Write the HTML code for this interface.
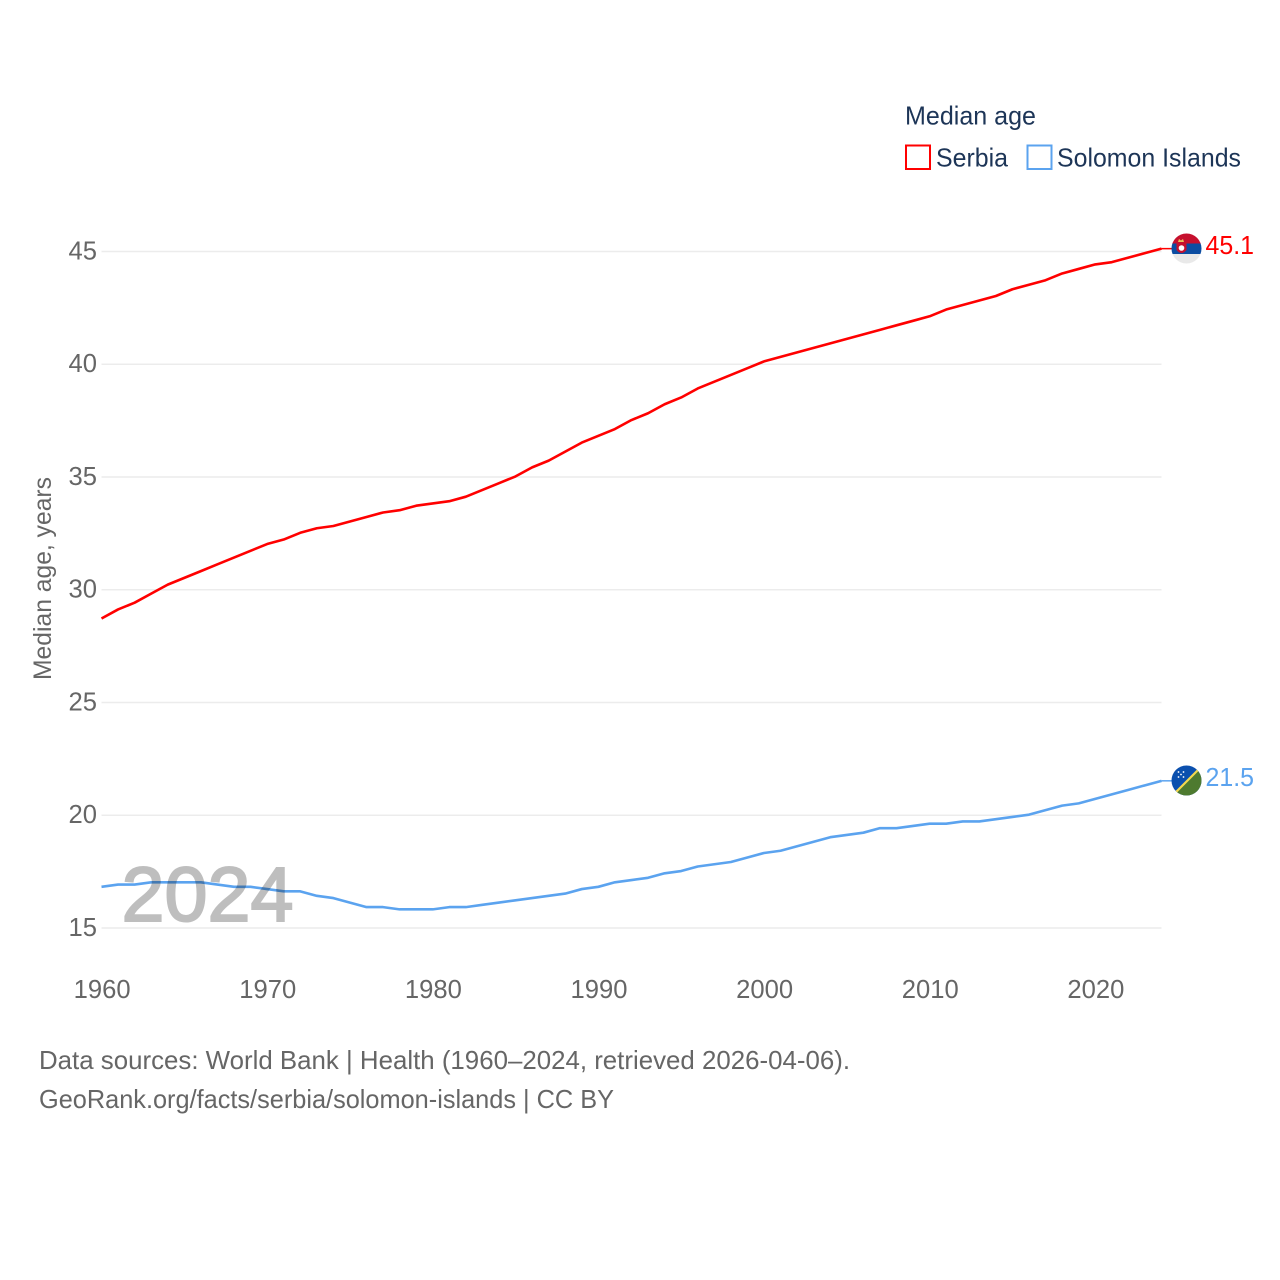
<!DOCTYPE html>
<html lang="en">
<head>
<meta charset="utf-8">
<title>Median age: Serbia and Solomon Islands</title>
<style>
html,body{margin:0;padding:0;background:#fff;}
svg{display:block;font-family:"Liberation Sans",sans-serif;}
</style>
</head>
<body>
<svg id="chart" xmlns="http://www.w3.org/2000/svg" width="1280" height="1280" viewBox="0 0 1280 1280">
  <rect width="1280" height="1280" fill="#fff"/>
  <defs>
    <clipPath id="clip-serbia"><circle cx="1186.5" cy="248.5" r="15"/></clipPath>
    <clipPath id="clip-solomon"><circle cx="1186.5" cy="780.5" r="15"/></clipPath>
  </defs>
  <g id="grid"></g>
  <g id="yticks"></g>
  <g id="xticks"></g>
  <g id="series" transform="translate(0 -0.6)"></g>

  <text x="121.5" y="921" font-size="77" fill="#000" stroke="#000" stroke-width="2" opacity="0.25" textLength="172" lengthAdjust="spacingAndGlyphs">2024</text>

  <text transform="translate(51 680) rotate(-90)" font-size="25" fill="#666" textLength="203" lengthAdjust="spacingAndGlyphs">Median age, years</text>

  <g>
    <text x="905" y="124.5" font-size="26" fill="#1d3557" textLength="131" lengthAdjust="spacingAndGlyphs">Median age</text>
    <rect x="906" y="145.5" width="24" height="23.5" fill="none" stroke="#ff0000" stroke-width="2"/>
    <text x="936" y="166.5" font-size="26" fill="#1d3557" textLength="72" lengthAdjust="spacingAndGlyphs">Serbia</text>
    <rect x="1027.5" y="145.5" width="24" height="23.5" fill="none" stroke="#5ba3ef" stroke-width="2"/>
    <text x="1057" y="166.5" font-size="26" fill="#1d3557" textLength="184" lengthAdjust="spacingAndGlyphs">Solomon Islands</text>
  </g>

  <g clip-path="url(#clip-serbia)">
    <rect x="1170" y="233" width="33" height="11" fill="#c6102e"/>
    <rect x="1170" y="243.5" width="33" height="10.5" fill="#0c4da2"/>
    <rect x="1170" y="254" width="33" height="11" fill="#e9e9e9"/>
    <path d="M1178 242l1-3 2 1.500 2-1.500 1 3z" fill="#e8c15a"/>
    <path d="M1176.500 242h10v8q-5 6-10 0z" fill="#c6102e"/>
    <circle cx="1181.500" cy="248" r="2.800" fill="#fff"/>
  </g>
  <g clip-path="url(#clip-solomon)">
    <rect x="1170" y="765" width="33" height="32" fill="#0b50ae"/>
    <path d="M1203 765V797H1171Z" fill="#4e7a2f"/>
    <path d="M1201 767L1173 795" stroke="#f4d94e" stroke-width="2.200" fill="none"/>
    <g fill="#fff">
      <circle cx="1178.500" cy="772" r="0.900"/><circle cx="1183.500" cy="772" r="0.900"/>
      <circle cx="1181" cy="774.500" r="0.900"/>
      <circle cx="1178.500" cy="777" r="0.900"/><circle cx="1183.500" cy="777" r="0.900"/>
    </g>
  </g>

  <text x="1205.5" y="254" font-size="25.5" fill="#ff0000" textLength="48.5" lengthAdjust="spacingAndGlyphs">45.1</text>
  <text x="1205.5" y="786" font-size="25.5" fill="#5ba3ef" textLength="48.5" lengthAdjust="spacingAndGlyphs">21.5</text>

  <text x="39" y="1069" font-size="26" fill="#666" textLength="811" lengthAdjust="spacingAndGlyphs">Data sources: World Bank | Health (1960–2024, retrieved 2026-04-06).</text>
  <text x="39" y="1108" font-size="26" fill="#666" textLength="575" lengthAdjust="spacingAndGlyphs">GeoRank.org/facts/serbia/solomon-islands | CC BY</text>
</svg>
<script>
const startYear = 1960;
const serbiaValues = [28.7,29.1,29.4,29.8,30.2,30.5,30.8,31.1,31.4,31.7,32.0,32.2,32.5,32.7,32.8,33.0,33.2,33.4,33.5,33.7,33.8,33.9,34.1,34.4,34.7,35.0,35.4,35.7,36.1,36.5,36.8,37.1,37.5,37.8,38.2,38.5,38.9,39.2,39.5,39.8,40.1,40.3,40.5,40.7,40.9,41.1,41.3,41.5,41.7,41.9,42.1,42.4,42.6,42.8,43.0,43.3,43.5,43.7,44.0,44.2,44.4,44.5,44.7,44.9,45.1];
const solomonValues = [16.8,16.9,16.9,17.0,17.0,17.0,17.0,16.9,16.8,16.8,16.7,16.6,16.6,16.4,16.3,16.1,15.9,15.9,15.8,15.8,15.8,15.9,15.9,16.0,16.1,16.2,16.3,16.4,16.5,16.7,16.8,17.0,17.1,17.2,17.4,17.5,17.7,17.8,17.9,18.1,18.3,18.4,18.6,18.8,19.0,19.1,19.2,19.4,19.4,19.5,19.6,19.6,19.7,19.7,19.8,19.9,20.0,20.2,20.4,20.5,20.7,20.9,21.1,21.3,21.5];
const yTickValues = [15,20,25,30,35,40,45];
const xTickValues = [1960,1970,1980,1990,2000,2010,2020];

const SVG_NS = 'http://www.w3.org/2000/svg';
const plotLeft = 101.5, plotRight = 1161.5, plotBottom = 928, plotTop = 251.5;
const xDomain = [1960, 2024], yDomain = [15, 45];
function xScale(year) {
  return plotLeft + (year - xDomain[0]) / (xDomain[1] - xDomain[0]) * (plotRight - plotLeft);
}
function yScale(value) {
  return plotBottom - (value - yDomain[0]) / (yDomain[1] - yDomain[0]) * (plotBottom - plotTop);
}
function make(tag, attrs) {
  const el = document.createElementNS(SVG_NS, tag);
  for (const key in attrs) el.setAttribute(key, attrs[key]);
  return el;
}

const gridGroup = document.getElementById('grid');
const yGroup = document.getElementById('yticks');
yTickValues.forEach(function (v) {
  const line = make('line', {x1: plotLeft, x2: plotRight, y1: yScale(v), y2: yScale(v), stroke: '#ececec', 'stroke-width': 1.5});
  
  
  gridGroup.appendChild(line);
  const label = make('text', {x: 97, y: yScale(v) + 7.8, 'text-anchor': 'end', 'font-size': 25.6, fill: '#666'});
  
  
  label.textContent = String(v);
  yGroup.appendChild(label);
});

const xGroup = document.getElementById('xticks');
xTickValues.forEach(function (v) {
  const label = make('text', {x: xScale(v) + 0.6, y: 998, 'text-anchor': 'middle', 'font-size': 25.6, fill: '#666'});
  
  
  label.textContent = String(v);
  xGroup.appendChild(label);
});

function linePoints(values) {
  return values.map(function (v, i) {
    return xScale(startYear + i).toFixed(2) + ',' + yScale(v).toFixed(2);
  }).join(' ');
}
const seriesGroup = document.getElementById('series');

const serbiaLine = make('polyline', {points: linePoints(serbiaValues), fill: 'none', stroke: '#ff0000', 'stroke-width': 2.6, 'stroke-linejoin': 'round'});


seriesGroup.appendChild(serbiaLine);

const solomonLine = make('polyline', {points: linePoints(solomonValues), fill: 'none', stroke: '#5ba3ef', 'stroke-width': 2.6, 'stroke-linejoin': 'round'});


seriesGroup.appendChild(solomonLine);

const serbiaLast = serbiaValues[serbiaValues.length - 1];
const serbiaConnector = make('line', {x1: plotRight, x2: 1172, y1: yScale(serbiaLast), y2: yScale(serbiaLast), stroke: '#ff0000', 'stroke-width': 1.5});


seriesGroup.appendChild(serbiaConnector);

const solomonLast = solomonValues[solomonValues.length - 1];
const solomonConnector = make('line', {x1: plotRight, x2: 1172, y1: yScale(solomonLast), y2: yScale(solomonLast), stroke: '#5ba3ef', 'stroke-width': 1.5});


seriesGroup.appendChild(solomonConnector);
</script>
</body>
</html>
